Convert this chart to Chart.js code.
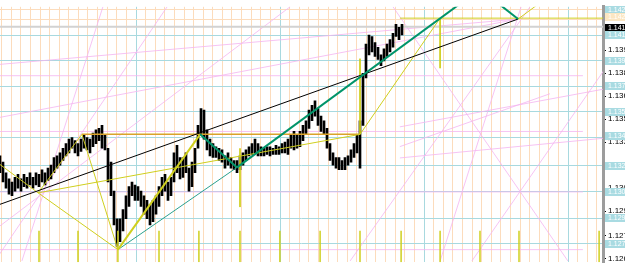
<!DOCTYPE html>
<html>
<head>
<meta charset="utf-8">
<script src="https://cdn.jsdelivr.net/npm/chart.js@4"></script>
<style>
html, body { margin: 0; padding: 0; background: #fff; }
#wrap { width: 625px; height: 269px; position: relative; }
</style>
</head>
<body>
<div id="wrap"><canvas id="chart"></canvas></div>
<script>
// price bars, one every bar index
const barHighs = [
    1.1330, 1.1326, 1.1319, 1.1315, 1.1313, 1.1316, 1.1318, 1.1315, 1.1318, 1.1316,
    1.1319, 1.1316, 1.1319, 1.1318, 1.1321, 1.1319, 1.1322, 1.1324, 1.1329, 1.1330,
    1.1332, 1.1335, 1.1338, 1.1341, 1.1342, 1.1340, 1.1338, 1.1341, 1.1344, 1.1342,
    1.1341, 1.1345, 1.1347, 1.1348, 1.1350, 1.1344, 1.1335, 1.1326, 1.1307, 1.1289,
    1.1289, 1.1295, 1.1304, 1.1310, 1.1313, 1.1311, 1.1310, 1.1307, 1.1304, 1.1301,
    1.1298, 1.1301, 1.1304, 1.1310, 1.1316, 1.1318, 1.1313, 1.1316, 1.1332, 1.1337,
    1.1329, 1.1329, 1.1332, 1.1322, 1.1326, 1.1335, 1.1350, 1.1361, 1.1360, 1.1347,
    1.1341, 1.1338, 1.1336, 1.1335, 1.1334, 1.1330, 1.1332, 1.1329, 1.1327, 1.1327,
    1.1330, 1.1332, 1.1334, 1.1336, 1.1338, 1.1341, 1.1338, 1.1336, 1.1335, 1.1336,
    1.1336, 1.1335, 1.1337, 1.1336, 1.1338, 1.1339, 1.1341, 1.1344, 1.1346, 1.1344,
    1.1346, 1.1350, 1.1353, 1.1360, 1.1363, 1.1366, 1.1361, 1.1356, 1.1353, 1.1348,
    1.1338, 1.1332, 1.1329, 1.1329, 1.1327, 1.1329, 1.1330, 1.1334, 1.1338, 1.1344,
    1.1353, 1.1384, 1.1403, 1.1409, 1.1408, 1.1404, 1.1401, 1.1396, 1.1400, 1.1403,
    1.1406, 1.1410, 1.1416, 1.1414, 1.1416
];
const barLows = [
    1.1319, 1.1313, 1.1309, 1.1305, 1.1304, 1.1307, 1.1309, 1.1307, 1.1310, 1.1309,
    1.1311, 1.1309, 1.1311, 1.1310, 1.1313, 1.1311, 1.1314, 1.1315, 1.1319, 1.1322,
    1.1324, 1.1327, 1.1330, 1.1332, 1.1335, 1.1332, 1.1330, 1.1333, 1.1335, 1.1334,
    1.1332, 1.1336, 1.1338, 1.1340, 1.1335, 1.1334, 1.1313, 1.1304, 1.1285, 1.1271,
    1.1274, 1.1281, 1.1289, 1.1297, 1.1304, 1.1301, 1.1301, 1.1297, 1.1292, 1.1289,
    1.1285, 1.1287, 1.1292, 1.1297, 1.1304, 1.1307, 1.1301, 1.1304, 1.1313, 1.1319,
    1.1315, 1.1316, 1.1319, 1.1307, 1.1310, 1.1319, 1.1335, 1.1344, 1.1341, 1.1334,
    1.1330, 1.1329, 1.1329, 1.1327, 1.1326, 1.1322, 1.1324, 1.1322, 1.1321, 1.1319,
    1.1321, 1.1324, 1.1327, 1.1330, 1.1331, 1.1332, 1.1330, 1.1330, 1.1330, 1.1331,
    1.1330, 1.1331, 1.1331, 1.1331, 1.1332, 1.1332, 1.1331, 1.1335, 1.1334, 1.1335,
    1.1336, 1.1340, 1.1344, 1.1348, 1.1353, 1.1356, 1.1350, 1.1346, 1.1344, 1.1335,
    1.1327, 1.1324, 1.1322, 1.1321, 1.1321, 1.1321, 1.1324, 1.1326, 1.1329, 1.1332,
    1.1322, 1.1350, 1.1381, 1.1396, 1.1398, 1.1395, 1.1393, 1.1389, 1.1392, 1.1395,
    1.1398, 1.1401, 1.1408, 1.1406, 1.1409
];

// right axis
const tickValues = [1.1399, 1.1384, 1.1369, 1.1354, 1.1339, 1.1324, 1.1309, 1.1294, 1.1278, 1.1263];
const levelPrices = [1.14089, 1.13922, 1.13756, 1.13589, 1.13420, 1.13237, 1.13065, 1.12892, 1.12725];
const peachLevels = [1.14255, 1.14194];

// price boxes on the axis
const boxTexts = ['1.1425', '1.1420', '1.1416', '1.1410', '1.1391', '1.1375', '1.1359', '1.1345', '1.1329', '1.1309', '1.1291', '1.1274'];
const boxPrices = [1.14255, 1.14206, 1.14138, 1.14089, 1.13922, 1.13756, 1.13589, 1.13429, 1.13237, 1.13065, 1.12892, 1.12725];
const bidPrice = 1.14144;

// drawn objects: [x1, price1, x2, price2] in bar units
const pinkSegs = [
    [0, 1.13824, 194.3, 1.13824],
    [0, 1.13460, 194.3, 1.13460],
    [0, 1.13065, 194.3, 1.13065],
    [0, 1.12688, 194.3, 1.12688],
    [0, 1.13898, 172.7, 1.14194],
    [0, 1.13552, 172.7, 1.14194],
    [7.3, 1.12614, 34.3, 1.14274],
    [-1.7, 1.12614, 55.7, 1.14274],
    [0, 1.12843, 96.7, 1.14274],
    [131, 1.14274, 189.3, 1.12614],
    [173.7, 1.14274, 146.7, 1.12614],
    [216, 1.14274, 157.3, 1.12614],
    [133.3, 1.13490, 208.3, 1.13762],
    [133.3, 1.13361, 183.3, 1.13706],
    [133.3, 1.13287, 208.3, 1.13429],
    [176.7, 1.14274, 116.7, 1.12614]
];
const yellowSegs = [
    [0, 1.13244, 12.7, 1.13059],
    [12.7, 1.13059, 27.3, 1.13441],
    [27.3, 1.13441, 39.3, 1.12688],
    [12.7, 1.13059, 39.3, 1.12688],
    [12.7, 1.13059, 120, 1.13441],
    [120, 1.13441, 146.7, 1.14200],
    [133.3, 1.14200, 210, 1.14200],
    [146.7, 1.14200, 146.7, 1.13873],
    [120, 1.13935, 120, 1.13441],
    [172.7, 1.14194, 180, 1.14300],
    [80, 1.13349, 80, 1.12966]
];
const yellowThick = [[39.3, 1.12688, 66.7, 1.13441]];
const separatorBars = [13, 26, 39.3, 53, 66.3, 80, 93.3, 106.7, 120, 133.7, 146.7, 160, 173, 199.7];
const separatorTop = 1.12812;
const goldSegs = [[27.3, 1.13441, 120, 1.13441]];
const greenSegs = [
    [66.7, 1.13441, 79, 1.13225],
    [79, 1.13225, 156.7, 1.14342],
    [162.7, 1.14348, 172.7, 1.14194]
];
const tealSegs = [[39.3, 1.12688, 79, 1.13225]];
const blackSegs = [[0, 1.12984, 172.7, 1.14194]];

const yMin = 1.12606;
const yMax = 1.14274;

function segDatasets(list, color, width, order) {
    return list.map(s => ({
        type: 'line',
        data: [{ x: s[0], y: s[1] }, { x: s[2], y: s[3] }],
        borderColor: color,
        borderWidth: width,
        pointRadius: 0,
        fill: false,
        tension: 0,
        order: order
    }));
}

const datasets = [];
datasets.push(...segDatasets(pinkSegs, 'rgba(244,180,240,0.8)', 1, 10));
datasets.push(...segDatasets([[0, bidPrice, 210, bidPrice]], '#d2d2d2', 2, 9));
datasets.push({
    type: 'bar',
    data: barLows.map((l, i) => ({ x: i, y: [l, barHighs[i]] })),
    backgroundColor: '#000',
    borderWidth: 0,
    barThickness: 2,
    order: 8
});
datasets.push(...segDatasets(goldSegs, '#d9a32a', 1.5, 7));
datasets.push(...segDatasets(tealSegs, '#2aa08e', 1, 6));
datasets.push(...segDatasets(yellowSegs, '#cfcf1e', 1, 5));
datasets.push(...segDatasets(yellowThick, '#cfcf1e', 2, 5));
datasets.push(...segDatasets(separatorBars.map(b => [b, separatorTop, b, yMin]), '#cfcf1e', 1.5, 5));
datasets.push(...segDatasets(blackSegs, '#000', 1, 4));
datasets.push(...segDatasets(greenSegs, '#00946a', 2, 3));

const labelBoxes = {
    id: 'labelBoxes',
    afterDraw(chart) {
        const ctx = chart.ctx;
        const y = chart.scales.y;
        ctx.save();
        ctx.font = '7px "Liberation Sans"';
        ctx.textBaseline = 'middle';
        boxTexts.forEach((t, i) => {
            const py = Math.round(y.getPixelForValue(boxPrices[i]));
            let bg = '#a9dbe2';
            if (t === '1.1416') bg = '#000';
            if (t === '1.1420') bg = '#fbe6c2';
            ctx.fillStyle = bg;
            ctx.fillRect(y.left + 2, py - 4, 24, 8);
            ctx.fillStyle = '#fff';
            ctx.fillText(t, y.left + 5, py);
        });
        ctx.restore();
    }
};

new Chart(document.getElementById('chart'), {
    type: 'line',
    data: { datasets: datasets },
    options: {
        responsive: true,
        maintainAspectRatio: false,
        animation: false,
        layout: { padding: 0 },
        plugins: { legend: { display: false }, tooltip: { enabled: false } },
        scales: {
            x: {
                type: 'linear',
                min: 0,
                max: 201,
                offset: false,
                ticks: { display: false },
                border: { display: false },
                grid: {
                    offset: false,
                    drawTicks: false,
                    lineWidth: 1,
                    color: ctx => (ctx.index % 15 === 14 ? '#a8d9df' : '#fcdcbc')
                },
                afterBuildTicks: scale => {
                    const t = [];
                    for (let k = 0; k < 63; k++) t.push({ value: (1.6 + 9.6 * k) / 3 });
                    scale.ticks = t;
                },
                afterFit: scale => { scale.height = 0; }
            },
            yl: {
                position: 'left',
                min: yMin,
                max: yMax,
                ticks: { display: false },
                border: { display: false },
                grid: {
                    drawTicks: false,
                    color: ctx => (ctx.index < levelPrices.length ? '#a8d9df' : '#fcdcbc')
                },
                afterBuildTicks: scale => {
                    scale.ticks = levelPrices.concat(peachLevels).map(v => ({ value: v }));
                },
                afterFit: scale => { scale.width = 0; }
            },
            y: {
                position: 'right',
                min: yMin,
                max: yMax,
                beginAtZero: false,
                border: { display: true, color: '#9c9c9c', width: 3 },
                grid: { drawOnChartArea: false, drawTicks: true, tickLength: 3, tickColor: '#000' },
                ticks: {
                    autoSkip: false,
                    padding: 2,
                    color: '#000',
                    font: { family: 'Liberation Sans', size: 8 },
                    callback: v => v.toFixed(4)
                },
                afterBuildTicks: scale => {
                    scale.ticks = tickValues.map(v => ({ value: v }));
                },
                afterFit: scale => { scale.width = 22; }
            }
        }
    },
    plugins: [labelBoxes]
});
</script>
</body>
</html>
